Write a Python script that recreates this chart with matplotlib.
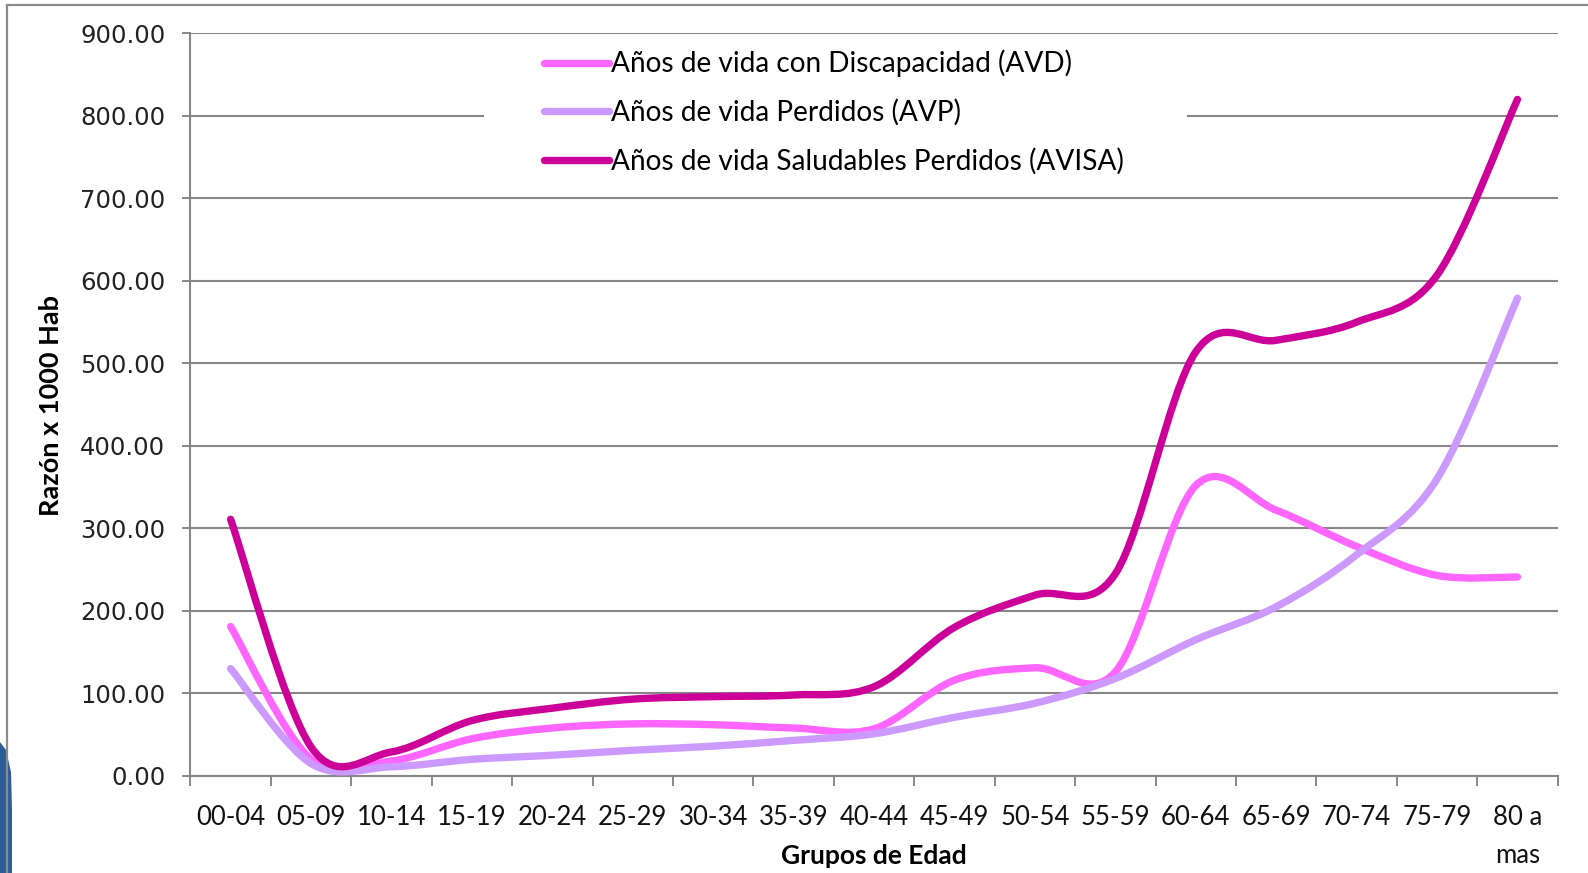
import numpy as np
import matplotlib.pyplot as plt
from matplotlib.path import Path
from matplotlib.patches import PathPatch, Rectangle, Polygon
from matplotlib.lines import Line2D

# age groups and rates (x 1000 hab)
grupos = ["00-04", "05-09", "10-14", "15-19", "20-24", "25-29", "30-34", "35-39",
          "40-44", "45-49", "50-54", "55-59", "60-64", "65-69", "70-74", "75-79",
          "80 a\nmas"]
avd = [181, 20, 18, 45, 58, 63, 62, 58, 57, 116, 131, 126, 352, 322, 278, 243, 241]
avp = [130, 15, 11, 20, 25, 31, 36, 43, 51, 71, 88, 118, 165, 205, 268, 360, 579]
avisa = [311, 35, 29, 67, 82, 93, 96, 98, 108, 180, 219, 245, 514, 528, 550, 607, 820]

series = [
    ("Años de vida con Discapacidad (AVD)", avd, "#FF66FF"),
    ("Años de vida Perdidos (AVP)", avp, "#CC99FF"),
    ("Años de vida Saludables Perdidos (AVISA)", avisa, "#CC0099"),
]

GRID = "#878787"
TXT = ["Lato", "DejaVu Sans"]


def smooth_path(vals):
    # Excel-style smoothed line: Catmull-Rom segments as cubic Beziers
    pts = np.column_stack([np.arange(len(vals)), np.asarray(vals, float)])
    n = len(pts)
    verts, codes = [pts[0]], [Path.MOVETO]
    for i in range(n - 1):
        p0, p1 = pts[max(i - 1, 0)], pts[i]
        p2, p3 = pts[i + 1], pts[min(i + 2, n - 1)]
        verts += [p1 + (p2 - p0) / 6, p2 - (p3 - p1) / 6, p2]
        codes += [Path.CURVE4] * 3
    return Path(verts, codes)


fig = plt.figure(figsize=(15.88, 8.73), dpi=100)
ax = fig.add_axes([0.1199, 0.1113, 0.861, 0.8504])

# outer frame of the pasted chart + bit of slide background
fig.add_artist(Line2D([7 / 1588, 1], [1 - 5 / 873] * 2, color="#8c8c8c", lw=1.6,
                      transform=fig.transFigure))
fig.add_artist(Line2D([7 / 1588] * 2, [0, 1 - 5 / 873], color="#8c8c8c", lw=1.6,
                      transform=fig.transFigure))
blob = [(0, 742), (6, 750), (11, 772), (12, 810), (12, 873), (0, 873)]
fig.add_artist(Polygon([(x / 1588, 1 - y / 873) for x, y in blob], closed=True,
                       facecolor="#2b5d98", edgecolor="none",
                       transform=fig.transFigure))

x = np.arange(len(grupos))
handles = []
for label, vals, color in series:
    ax.add_patch(PathPatch(smooth_path(vals), fill=False, edgecolor=color, lw=5.3,
                           capstyle="round", joinstyle="round", zorder=3))
    handles.append(Line2D([], [], color=color, lw=5.3, solid_capstyle="round"))

ax.set_xlim(-0.5, len(grupos) - 0.5)
ax.set_ylim(0, 900)
ax.set_yticks(np.arange(0, 901, 100))
ax.set_yticklabels([f"{v:.2f}" for v in np.arange(0, 901, 100)],
                   fontsize=17.5, color="#222222", family="DejaVu Sans")
ax.set_xticks(x)
ax.set_xticklabels(grupos, fontsize=18.5, family=TXT, color="#111111")
for t in ax.get_xticklabels():
    t.set_linespacing(1.65)
ax.set_xticks(np.arange(-0.5, len(grupos)), minor=True)
ax.tick_params(axis="x", which="major", length=0, pad=21)
ax.tick_params(axis="x", which="minor", length=7.5, width=1.4, color=GRID)
ax.tick_params(axis="y", length=6, width=1.4, color=GRID, pad=12)

ax.grid(axis="y", color=GRID, lw=1.5)
ax.set_axisbelow(True)
for s in ("top", "right"):
    ax.spines[s].set_visible(False)
for s in ("left", "bottom"):
    ax.spines[s].set_color(GRID)
    ax.spines[s].set_linewidth(1.5)

ax.set_ylabel("Razón x 1000 Hab", fontsize=19.5, fontweight="bold", family=TXT,
              va="center")
ax.yaxis.set_label_coords(-0.102, 0.4995)
ax.set_xlabel("Grupos de Edad", fontsize=19, fontweight="bold", family=TXT,
              va="center")
ax.xaxis.set_label_coords(0.5, -0.108)

# white box behind the legend hides the gridline like in Excel
ax.add_patch(Rectangle((0.2147, 0.796), 0.5142, 0.197, transform=ax.transAxes,
                       facecolor="white", edgecolor="none", zorder=1.5))
ax.legend(handles, [s[0] for s in series], loc="upper left",
          bbox_to_anchor=(0.2586, 0.978), frameon=False, borderpad=0,
          borderaxespad=0, handlelength=2.3, handletextpad=0.1,
          labelspacing=0.77, prop={"family": TXT, "size": 20.2})

fig.savefig("out.png", dpi=100)
